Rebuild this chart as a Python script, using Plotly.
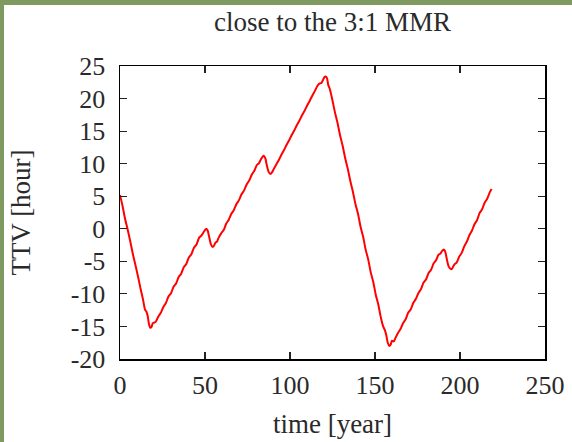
import plotly.graph_objects as go

# Transit timing variation of the planet near the 3:1 mean-motion resonance
time_year = [
    0, 1.5, 3, 4.5, 6, 7.5, 9, 10.5, 12, 13.5, 14.7, 15.5, 16.3, 17, 17.8, 18.5, 19.3, 20.2, 21,
    22.5, 24, 25.5, 27, 28.5, 30, 31.5, 33, 34.5, 36, 37.5, 39, 40.5, 42, 43.5, 45, 46.5, 48,
    49, 50, 50.8, 51.6, 52.5, 53.5, 54.5, 55.3, 56.2, 57, 58,
    59.5, 61, 62.5, 64, 65.5, 67, 68.5, 70, 71.5, 73, 74.5, 76, 77.5, 79, 80.5, 81.8, 83,
    84, 84.7, 85.5, 86.5, 87.5, 88.5, 89.5, 90.5,
    92, 93.5, 95, 96.5, 98, 99.5, 101, 102.5, 104, 105.5, 107, 108.5, 110, 111.5, 113, 114.5, 116,
    117.3, 118.5, 119.5, 120.3, 121, 121.8, 122.5, 123.5,
    125, 126.5, 128, 129.5, 131, 132.5, 134, 135.5, 137, 138.5, 140, 141.5, 143, 144.5, 146,
    147.5, 149, 150.5, 152, 153.5, 154.8, 155.7, 156.6, 157.5, 158.4, 159.2, 160, 161, 162,
    163.5, 165, 166.5, 168, 169.5, 171, 172.5, 174, 175.5, 177, 178.5, 180, 181.5, 183, 184.5,
    186, 187.3, 188.5, 189.5, 190.5, 191.3, 192.2, 193.2, 194.2, 195.1, 196, 197, 198,
    199.5, 201, 202.5, 204, 205.5, 207, 208.5, 210, 211.5, 213, 214.5, 216, 217.5, 218.6,
]
ttv_hour = [
    5.2, 3.5, 1.5, -0.1, -1.9, -3.8, -5.5, -7.2, -9.1, -10.8, -12.4, -12.7, -13.4, -14.6, -15.2, -15.1, -14.5, -14.4, -14.3,
    -13.5, -12.9, -12.0, -11.4, -10.4, -9.9, -8.9, -8.4, -7.4, -6.9, -5.9, -5.4, -4.4, -3.9, -2.9, -2.4, -1.4, -1.0,
    -0.6, -0.2, 0.0, -0.3, -1.3, -2.4, -2.8, -2.6, -2.1, -2.0, -1.4,
    -0.7, -0.2, 0.8, 1.4, 2.3, 2.9, 3.8, 4.4, 5.3, 5.9, 6.8, 7.4, 8.3, 8.9, 9.8, 10.1, 10.7,
    11.1, 11.2, 10.8, 9.6, 8.7, 8.4, 8.7, 9.2,
    9.9, 10.6, 11.4, 12.1, 12.9, 13.6, 14.4, 15.1, 15.9, 16.6, 17.4, 18.1, 18.9, 19.6, 20.4, 21.1, 21.9,
    22.3, 22.4, 22.9, 23.3, 23.4, 23.1, 22.1, 21.4,
    19.7, 17.8, 16.2, 14.3, 12.7, 10.8, 9.2, 7.3, 5.7, 3.8, 2.3, 0.3, -1.2, -3.2, -4.7,
    -6.7, -8.2, -10.2, -11.7, -13.7, -15.0, -15.5, -16.3, -17.5, -18.0, -17.8, -17.2, -17.3, -16.8,
    -16.0, -15.4, -14.5, -13.9, -12.9, -12.4, -11.4, -10.8, -9.9, -9.3, -8.3, -7.8, -6.8, -6.3, -5.3,
    -4.8, -4.0, -3.8, -3.4, -3.2, -3.5, -4.6, -5.7, -6.1, -6.2, -5.8, -5.4, -5.2,
    -4.3, -3.7, -2.7, -2.0, -1.0, -0.3, 0.7, 1.3, 2.4, 3.0, 4.0, 4.6, 5.6, 6.1,
]

x_ticks = [0, 50, 100, 150, 200, 250]
y_ticks = [25, 20, 15, 10, 5, 0, -5, -10, -15, -20]

FONT = "Liberation Serif"
TEXT = "#2a2a2a"
FRAME_GREEN = "#7f9a60"

fig = go.Figure()
fig.add_trace(go.Scatter(
    x=time_year, y=ttv_hour, mode="lines",
    line=dict(color="#ff0000", width=2, shape="spline", smoothing=0.6),
    showlegend=False, hoverinfo="skip",
))

axis_common = dict(
    showline=True, linecolor="black", linewidth=1.5, mirror="ticks",
    ticks="inside", ticklen=7, tickwidth=1.2, tickcolor="#222",
    showgrid=False, zeroline=False, automargin=False,
    tickfont=dict(family=FONT, size=26, color=TEXT),
)

fig.update_layout(
    width=572, height=442,
    margin=dict(l=120, r=27, t=66, b=83),
    paper_bgcolor=FRAME_GREEN, plot_bgcolor="white",
    title=dict(text="close to the 3:1 MMR", x=0.5815, xanchor="center",
               y=1 - 22 / 442, yanchor="middle",
               font=dict(family=FONT, size=27, color=TEXT)),
    xaxis=dict(range=[0, 250], tickvals=x_ticks, ticktext=[str(v) for v in x_ticks],
               ticklabelstandoff=2,
               title=dict(text="time [year]", standoff=15,
                          font=dict(family=FONT, size=27, color=TEXT)),
               **axis_common),
    yaxis=dict(range=[-20, 25], tickvals=y_ticks, ticktext=[str(v) for v in y_ticks],
               ticklabelstandoff=8,
               title=dict(text="TTV [hour]", standoff=32,
                          font=dict(family=FONT, size=27, color=TEXT)),
               **axis_common),
)

# white page sheet, leaving an olive strip along the left and top edges
fig.add_shape(type="rect", xref="paper", yref="paper",
              x0=-116 / 425, x1=460 / 425, y0=-90 / 293, y1=354 / 293,
              line=dict(width=0), fillcolor="white", layer="below")

fig.write_html("out.html", config={"displayModeBar": False, "staticPlot": True})
